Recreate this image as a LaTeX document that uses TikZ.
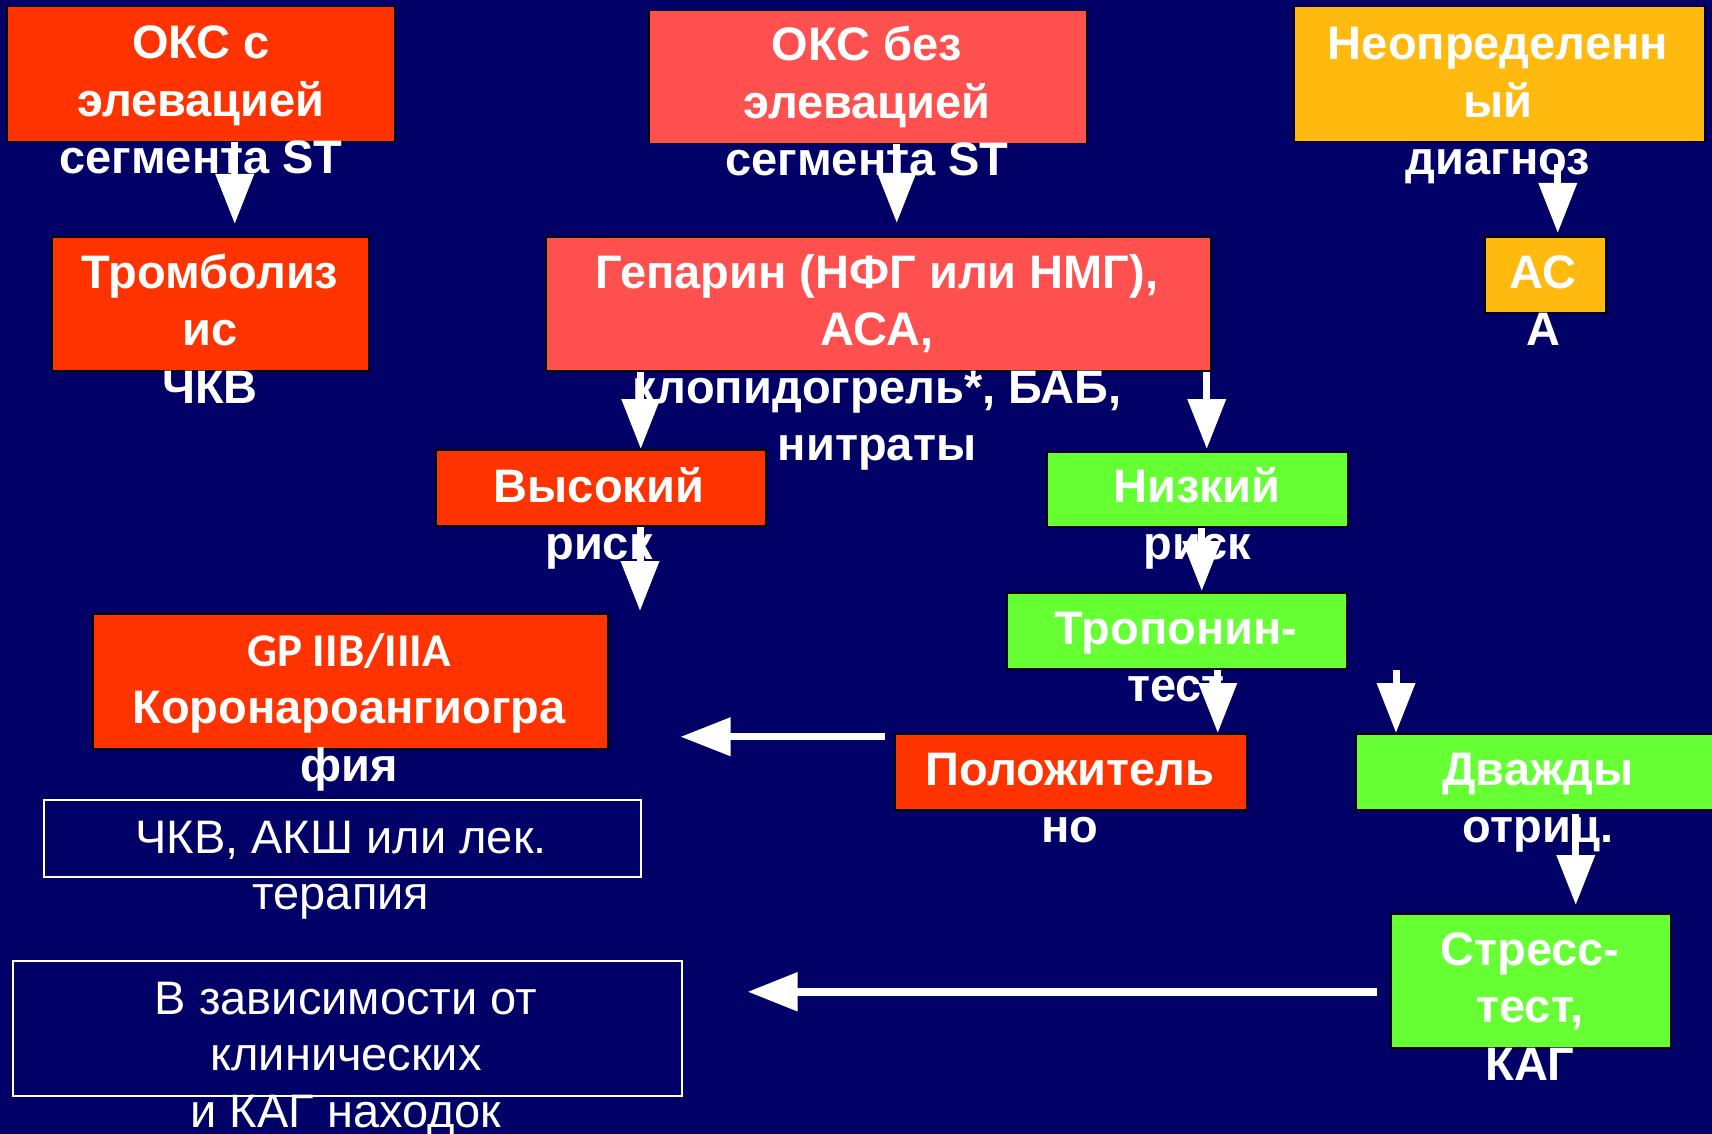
\documentclass[tikz,border=0pt]{standalone}
\usepackage{fontspec}
\setmainfont{Liberation Sans}
\newfontfamily\gpfont{Carlito}
\usetikzlibrary{arrows.meta}
\definecolor{bg}{HTML}{000066}
\definecolor{redA}{HTML}{FF3300}
\definecolor{redB}{HTML}{FF5050}
\definecolor{amber}{HTML}{FFB90F}
\definecolor{lime}{HTML}{66FF33}
\newcommand\mlines[1]{\begin{tabular}[t]{@{}c@{}}#1\end{tabular}}
\begin{document}
\begin{tikzpicture}[x=1pt,y=-1pt,
  bx/.style={draw=black, line width=1.5pt, inner sep=0pt, anchor=north west},
  wbx/.style={draw=white, line width=1.5pt, inner sep=0pt, anchor=north west},
  txt/.style={text=white, inner sep=0pt, anchor=base, font=\bfseries\fontsize{47}{57.5}\selectfont},
  txtr/.style={text=white, inner sep=0pt, anchor=base, font=\fontsize{47}{56.5}\selectfont},
  arr/.style={draw=white, line width=7pt, -{Triangle[length=50pt,width=37pt]}}]
\fill[bg] (0,0) rectangle (1712,1134);
\useasboundingbox (0,0) rectangle (1712,1134);
% boxes
\node[bx, fill=redA, minimum width=388pt, minimum height=135pt] (okc1) at (6,6) {};
\node[bx, fill=redB, minimum width=438pt, minimum height=133pt] (okc2) at (648,10) {};
\node[bx, fill=amber, minimum width=411pt, minimum height=135pt] (und) at (1293,6) {};
\node[bx, fill=redA, minimum width=317pt, minimum height=134pt] (trom) at (51,236) {};
\node[bx, fill=redB, minimum width=665pt, minimum height=134pt] (hep) at (545,236) {};
\node[bx, fill=amber, minimum width=121pt, minimum height=76pt] (asa) at (1484,236) {};
\node[bx, fill=redA, minimum width=330pt, minimum height=76pt] (high) at (435,449) {};
\node[bx, fill=lime, minimum width=301pt, minimum height=75pt] (low) at (1046,451) {};
\node[bx, fill=lime, minimum width=340pt, minimum height=76pt] (trop) at (1006,592) {};
\node[bx, fill=redA, minimum width=515pt, minimum height=135pt] (gp) at (92,613) {};
\node[bx, fill=redA, minimum width=352pt, minimum height=76pt] (pos) at (894,733) {};
\node[bx, fill=lime, minimum width=400pt, minimum height=76pt] (twice) at (1355,733) {};
\node[wbx, minimum width=597pt, minimum height=77pt] (pci) at (43,799) {};
\node[wbx, minimum width=669pt, minimum height=135pt] (dep) at (12,960) {};
\node[bx, fill=lime, minimum width=280pt, minimum height=134pt] (stress) at (1390,913) {};
% texts
\node[txt] (tokc1) at (201,59) {\mlines{ОКС с\\элевацией\\сегмента ST}};
\node[txt] (tokc2) at (867,61) {\mlines{ОКС без\\элевацией\\сегмента ST}};
\node[txt] (tund) at (1498,60) {\mlines{Неопределенн\\ый\\диагноз}};
\node[txt] (ttrom) at (210,288) {\mlines{Тромболиз\\ис\\ЧКВ}};
\node[txt] (thep) at (877,288) {\mlines{Гепарин (НФГ или НМГ),\\АСА,\\клопидогрель*, БАБ,\\нитраты}};
\node[txt] (tasa) at (1543,288) {\mlines{АС\\А}};
\node[txt] (thigh) at (599,502) {\mlines{Высокий\\риск}};
\node[txt] (tlow) at (1197,502) {\mlines{Низкий\\риск}};
\node[txt] (ttrop) at (1176,644) {\mlines{Тропонин-\\тест}};
\node[txt] (tgp) at (349,666) {\mlines{{\gpfont GP IIB/IIIA}\\Коронароангиогра\\фия}};
\node[txt] (tpos) at (1070,785) {\mlines{Положитель\\но}};
\node[txt] (ttwice) at (1538,785) {\mlines{Дважды\\отриц.}};
\node[txtr] (tpci) at (341,853) {\mlines{ЧКВ, АКШ или лек.\\терапия}};
\node[txtr] (tdep) at (346,1014) {\mlines{В зависимости от\\клинических\\и КАГ находок}};
\node[txt] (tstress) at (1530,965) {\mlines{Стресс-\\тест,\\КАГ}};
% arrows
\coordinate (a1) at ([xshift=34pt]okc1.south);
\draw[arr, shorten >=12pt] (a1) -- (a1 |- trom.north);
\coordinate (a2) at ([xshift=29pt]okc2.south);
\draw[arr, shorten >=13pt] (a2) -- (a2 |- hep.north);
\coordinate (a3) at ([xshift=58.5pt]und.south);
\draw[arr, shorten <=22pt, shorten >=3pt] (a3) -- (a3 |- asa.north);
\coordinate (a4) at ([xshift=40pt]high.north);
\draw[arr] (a4 |- hep.south) -- (a4);
\coordinate (a5) at ([xshift=9.5pt]low.north);
\draw[arr, shorten >=2pt] (a5 |- hep.south) -- (a5);
\coordinate (a6) at (640,611);
\draw[arr] (a6 |- high.south) -- (a6);
\coordinate (a7) at ([xshift=25pt]trop.north);
\draw[arr, shorten >=1pt] (a7 |- low.south) -- (a7);
\coordinate (a8) at ([xshift=147pt]pos.north);
\draw[arr] (a8 |- trop.south) -- (a8);
\coordinate (a9) at (1396,670);
\draw[arr] (a9) -- (a9 |- twice.north);
\coordinate (a10) at ([xshift=45pt]stress.north);
\draw[arr, shorten <=3pt, shorten >=8pt] (a10 |- twice.south) -- (a10);
\coordinate (a11) at ([yshift=35pt]pos.west);
\draw[arr, shorten <=9pt, shorten >=72pt] (a11) -- (a11 -| gp.east);
\coordinate (a12) at ([yshift=-11pt]stress.west);
\draw[arr, line width=8pt, shorten <=13pt, shorten >=65pt] (a12) -- (a12 -| dep.east);
\end{tikzpicture}
\end{document}
